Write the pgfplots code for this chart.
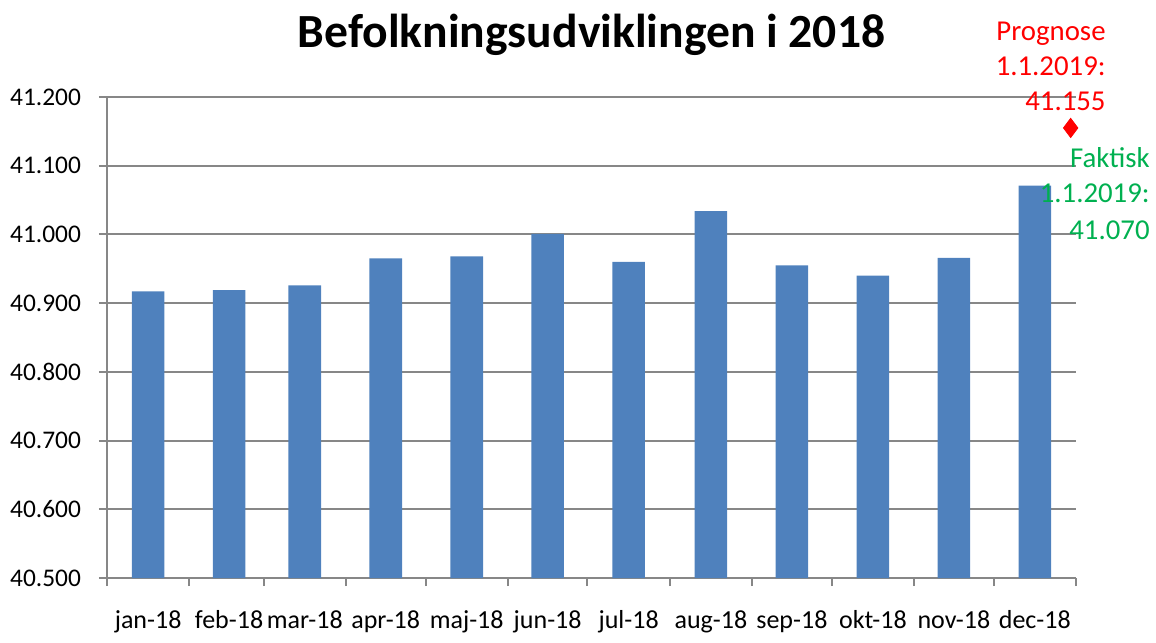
\documentclass[border=0pt]{standalone}
\usepackage{fontspec}
\setmainfont{Carlito}
\usepackage{pgfplots}
\pgfplotsset{compat=1.18}
\definecolor{barblue}{HTML}{4F81BD}
\definecolor{gridgray}{HTML}{878787}
\definecolor{xlgreen}{HTML}{00B050}

\begin{document}
\begin{tikzpicture}
\begin{axis}[
    scale only axis,
    width=484.5pt, height=240.5pt,
    xmin=0, xmax=365, ymin=40500, ymax=41200,
    axis x line*=bottom, axis y line*=left,
    axis line style={-, draw=gridgray, line width=1pt},
    scaled y ticks=false,
    ytick={40500,40600,...,41200},
    yticklabels={40.500,40.600,40.700,40.800,40.900,41.000,41.100,41.200},
    ymajorgrids,
    major grid style={draw=gridgray, line width=1pt},
    % month boundaries (days of 2018)
    xtick={0,31,59,90,120,151,181,212,243,273,304,334,365},
    xticklabels={},
    extra x ticks={15.5,46,74.5,105,135.5,166,196.5,227.5,258,288.5,319,349.5},
    extra x tick labels={jan-18,feb-18,mar-18,apr-18,maj-18,jun-18,jul-18,aug-18,sep-18,okt-18,nov-18,dec-18},
    extra x tick style={major tick length=0pt, grid=none},
    tick align=outside,
    major tick length=4pt,
    tick style={draw=gridgray, line width=1pt},
    yticklabel style={font=\fontsize{12.7}{15}\selectfont, xshift=-5.5pt},
    xticklabel style={font=\fontsize{13}{15}\selectfont, anchor=base, yshift=-25pt},
    clip mode=individual,
]
\addplot[ybar, bar width=16.3pt, fill=barblue, draw=none] coordinates {
  (15.5,40917) (46,40919) (74.5,40926) (105,40965) (135.5,40968) (166,41001)
  (196.5,40960) (227.5,41034) (258,40955) (288.5,40940) (319,40966) (349.5,41071)
};
\addplot[only marks, mark=diamond*, mark size=4.8pt, color=red] coordinates {(363,41155)};

\node[anchor=base, font=\fontsize{23.8}{28}\selectfont\bfseries] at (rel axis cs:0.5,1) [yshift=25pt] {Befolkningsudviklingen i 2018};

\begin{scope}[every node/.style={anchor=base east, inner sep=0pt, font=\fontsize{14.4}{17}\selectfont}]
\node[text=red] at (axis cs:376.3,41282) {Prognose};
\node[text=red] at (axis cs:376.3,41231) {1.1.2019:};
\node[text=red] at (axis cs:376.3,41180) {41.155};
\node[text=xlgreen] at (axis cs:392.9,41098) {Faktisk};
\node[text=xlgreen] at (axis cs:392.9,41046) {1.1.2019:};
\node[text=xlgreen] at (axis cs:392.9,40993) {41.070};
\end{scope}
\path (rel axis cs:-0.1104,-0.1143) rectangle (rel axis cs:1.0826,1.2017);
\end{axis}
\end{tikzpicture}
\end{document}
